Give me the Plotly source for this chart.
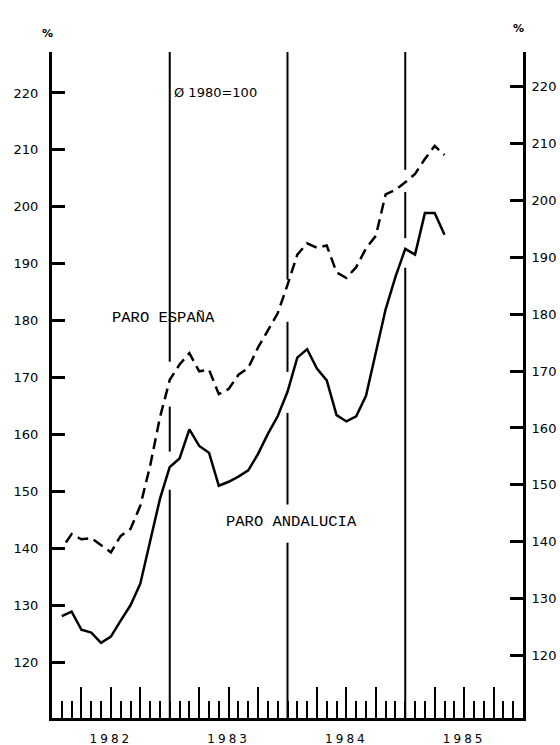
import plotly.graph_objects as go

# Monthly index: 0 = January 1982
months_espana = list(range(0, 41))
months_andalucia = list(range(1, 41))

# Unemployment index, average 1980 = 100
paro_espana = [140.0, 140.0, 142.5, 141.6, 141.8, 140.6, 139.3, 142.2, 143.4, 147.5,
               154.5, 163.0, 169.6, 172.3, 174.3, 171.1, 171.4, 167.1, 168.0, 170.5,
               171.7, 175.3, 178.4, 181.3, 186.3, 191.6, 193.6, 192.8, 193.2, 188.5,
               187.5, 189.4, 192.7, 194.9, 202.2, 203.0, 204.3, 205.8, 208.4, 210.7,
               209.1]
paro_andalucia = [128.1, 128.9, 125.7, 125.2, 123.4, 124.5, 127.3, 130.0, 133.8, 141.3,
                  148.7, 154.3, 155.8, 160.9, 158.0, 156.8, 151.0, 151.7, 152.6, 153.7,
                  156.6, 160.1, 163.2, 167.5, 173.5, 175.0, 171.6, 169.5, 163.4, 162.3,
                  163.2, 166.8, 174.5, 182.0, 187.7, 192.6, 191.6, 198.9, 198.9, 195.1]

years = ["1982", "1983", "1984", "1985"]
y_ticks = [120, 130, 140, 150, 160, 170, 180, 190, 200, 210, 220]

# Quarter ticks (long) and year labels placed mid-year
quarter_ticks = [q for q in range(3, 48, 3) if q % 12 != 0]
quarter_text = []
for q in quarter_ticks:
    if q % 12 == 6:
        quarter_text.append('<span style="letter-spacing:3px">%s</span>' % years[q // 12])
    else:
        quarter_text.append("")

# Year separators, drawn as broken vertical strokes (value ranges on left axis)
year_separators = {
    12: [(172.8, 227.2), (157.0, 164.9), (110.2, 150.3)],
    24: [(187.2, 227.2), (171.0, 179.8), (147.7, 163.8), (110.2, 141.0)],
    36: [(206.5, 227.2), (194.5, 202.6), (110.2, 189.3)],
}

INK = "black"
TICK_FONT = dict(family="DejaVu Sans", size=13, color=INK)
LABEL_FONT = dict(family="Liberation Mono", size=15.5, color=INK)

fig = go.Figure()
fig.add_trace(go.Scatter(
    x=months_espana, y=paro_espana, mode="lines",
    line=dict(color=INK, width=2.5, dash="11px,6px"),
    showlegend=False, hoverinfo="skip"))
fig.add_trace(go.Scatter(
    x=months_andalucia, y=paro_andalucia, mode="lines",
    line=dict(color=INK, width=2.5),
    showlegend=False, hoverinfo="skip"))
# keeps the right-hand scale visible
fig.add_trace(go.Scatter(x=[None], y=[None], yaxis="y2", showlegend=False))

shapes = []
for xm, segs in year_separators.items():
    for y0, y1 in segs:
        shapes.append(dict(type="line", xref="x", yref="y", x0=xm, x1=xm,
                           y0=y0, y1=y1, line=dict(color=INK, width=2)))

annotations = [
    dict(text="<b>%</b>", xref="paper", yref="paper", x=0, y=1, xshift=-5, yshift=19,
         xanchor="center", yanchor="middle",
         showarrow=False, font=dict(family="DejaVu Sans", size=11, color=INK)),
    dict(text="<b>%</b>", xref="paper", yref="paper", x=1, y=1, xshift=-5, yshift=24,
         xanchor="center", yanchor="middle",
         showarrow=False, font=dict(family="DejaVu Sans", size=11, color=INK)),
    dict(text="Ø 1980=100", xref="x", yref="y", x=12.2, y=220, xanchor="left",
         showarrow=False, font=dict(family="DejaVu Sans", size=13, color=INK)),
    dict(text="PARO ESPAÑA", xref="x", yref="y", x=11.4, y=180.5,
         showarrow=False, font=LABEL_FONT),
    dict(text="PARO ANDALUCIA", xref="x", yref="y", x=24.4, y=144.7,
         showarrow=False, font=LABEL_FONT),
]

fig.update_layout(
    width=560, height=745, autosize=False,
    margin=dict(l=52, r=37, t=52, b=27, pad=0),
    paper_bgcolor="white", plot_bgcolor="white",
    shapes=shapes, annotations=annotations,
    xaxis=dict(
        range=[0, 48], showgrid=False, zeroline=False, automargin=False,
        showline=True, linecolor=INK, linewidth=2.5,
        ticks="inside", tickmode="array", tickvals=quarter_ticks, ticktext=quarter_text,
        ticklen=31, tickwidth=2, tickcolor=INK, ticklabelstandoff=8,
        tickfont=dict(family="DejaVu Sans", size=12, color=INK),
        minor=dict(ticks="inside", tickmode="linear", tick0=0, dtick=1,
                   ticklen=17, tickwidth=2, tickcolor=INK, showgrid=False),
    ),
    yaxis=dict(
        range=[110.2, 227.2], showgrid=False, zeroline=False, automargin=False,
        showline=True, linecolor=INK, linewidth=3,
        ticks="inside", tickmode="array", tickvals=y_ticks,
        ticklen=13, tickwidth=2.5, tickcolor=INK, ticklabelstandoff=8,
        tickfont=TICK_FONT,
    ),
    yaxis2=dict(
        overlaying="y", side="right", automargin=False,
        range=[109.0, 226.1], showgrid=False, zeroline=False,
        showline=True, linecolor=INK, linewidth=3,
        ticks="inside", tickmode="array", tickvals=y_ticks,
        ticklen=13, tickwidth=2.5, tickcolor=INK, ticklabelstandoff=3,
        tickfont=TICK_FONT,
    ),
)

fig.write_html("out.html")
